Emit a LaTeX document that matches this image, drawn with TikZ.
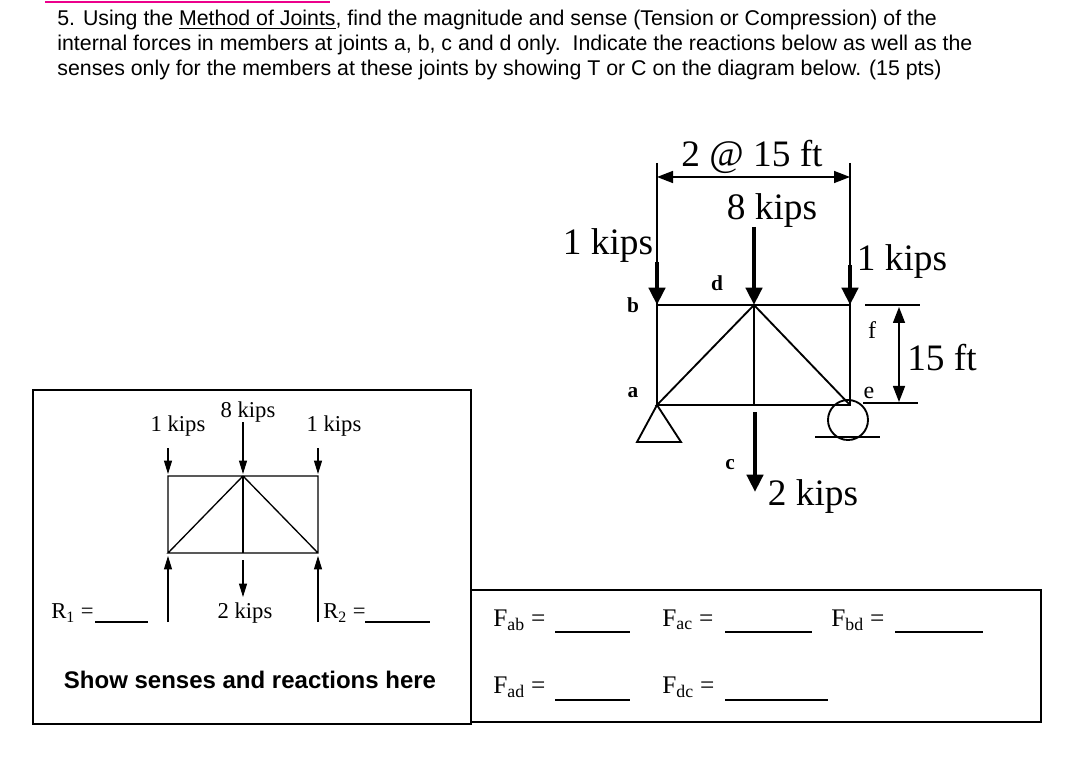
\documentclass[tikz,border=0pt]{standalone}
\usepackage{fontspec}
\setmainfont{Liberation Serif}
\newfontfamily\arial{Liberation Sans}
\usetikzlibrary{arrows.meta}

\begin{document}
\begin{tikzpicture}[x=0.75pt, y=-0.75pt, line width=1.4pt,
	load/.style={line width=3.5pt, -{Triangle[width=12pt,length=13pt]}},
	small load/.style={line width=0.8pt, -{Triangle[width=6pt,length=10pt]}},
	dim/.style={line width=1.1pt, {Triangle[width=9pt,length=12pt]}-{Triangle[width=9pt,length=12pt]}},
	big label/.style={font=\fontsize{28}{30}\selectfont},
	joint label/.style={font=\fontsize{16}{18}\selectfont\bfseries},
	small label/.style={font=\fontsize{17}{19}\selectfont},
	blank/.style={line width=0.8pt}]

	\useasboundingbox (0,0) rectangle (1075,759);

	% heading
	\draw[magenta, line width=2pt] (45,2) -- (330,2);
	\node[anchor=west, font=\arial\fontsize{16}{18.5}\selectfont, align=left] (task) at (52,45)
		{5. Using the \underline{Method of Joints}, find the magnitude and sense (Tension or Compression) of the\\
		internal forces in members at joints a, b, c and d only.\ \ Indicate the reactions below as well as the\\
		senses only for the members at these joints by showing T or C on the diagram below. (15 pts)};

	% main truss
	\coordinate (a) at (657,405);
	\coordinate (b) at (657,305);
	\coordinate (d) at (754,305);
	\coordinate (c) at (754,405);
	\coordinate (f) at (850,305);
	\coordinate (e) at (850,405);
	\draw (a) -- (b) -- (d) -- (f) -- (e) -- (c) -- (a) -- (d) -- (e);
	\draw (d) -- (c);

	% supports
	\draw (a) -- (637,442) -- (681,442) -- cycle;
	\node[circle, draw, minimum size=30pt, inner sep=0pt] (roller) at (848,420) {};
	\draw (815,437) -- (880,437);

	% loads
	\coordinate (l1) at (657,163);
	\coordinate (l2) at (754,227);
	\coordinate (l3) at (850,163);
	\draw[line width=1.1pt] (l1) -- (b);
	\draw[line width=1.1pt] (l3) -- (f);
	\draw[load] (657,262) -- (b);
	\draw[load] (l2) -- (d);
	\draw[load] (850,265) -- (f);
	\draw[load] (755,412) -- (755,492);
	\node[big label] (w1) at (608,246) {1 kips};
	\node[big label] (w2) at (772,211) {8 kips};
	\node[big label] (w3) at (902,262) {1 kips};
	\node[big label] (w4) at (813,497) {2 kips};

	% dimensions
	\draw[dim] (657,177) -- (850,177);
	\node[big label, fill=white, inner sep=1pt] (span) at (752,157) {2 @ 15 ft};
	\draw (865,305) -- (920,305);
	\draw (863,403) -- (918,403);
	\draw[dim] (899,307) -- (899,402);
	\node[big label] (rise) at (942,358) {15 ft};

	% joint names
	\node[joint label] at (633,305) {b};
	\node[joint label] at (717,283) {d};
	\node[joint label] at (633,393) {a};
	\node[joint label] at (730,465) {c};
	\node[font=\fontsize{18}{20}\selectfont] at (872,330) {f};
	\node[font=\fontsize{18}{20}\selectfont] at (869,393) {e};

	% answer boxes
	\draw[line width=0.8pt] (33,390) rectangle (471,724);
	\draw[line width=0.8pt] (471,590) rectangle (1041,722);

	% small truss
	\coordinate (sa) at (168,553);
	\coordinate (sb) at (168,476);
	\coordinate (sd) at (243,476);
	\coordinate (sc) at (243,553);
	\coordinate (sf) at (318,476);
	\coordinate (se) at (318,553);
	\draw[line width=1pt] (sa) -- (sb) -- (sf) -- (se) -- (sa) -- (sd) -- (se);
	\draw[line width=1pt] (sd) -- (sc);
	\foreach \x/\top in {168/438, 243/412, 318/438}
		\draw[small load] (\x,\top+10) -- (\x,474);
	\draw[small load] (168,622) -- (168,556);
	\draw[small load] (318,622) -- (318,556);
	\draw[small load] (243,560) -- (243,597);
	\node[small label] (s1) at (178,426) {1 kips};
	\node[small label] (s2) at (248,412) {8 kips};
	\node[small label] (s3) at (334,426) {1 kips};
	\node[small label] (s4) at (245,613) {2 kips};
	\node[small label, anchor=west] (r1) at (46,613) {R\textsubscript{1} =};
	\draw[blank] (95,622) -- (148,622);
	\node[small label, anchor=west] (r2) at (318,613) {R\textsubscript{2} =};
	\draw[blank] (365,622) -- (430,622);
	\node[font=\arial\bfseries\fontsize{18}{20}\selectfont] (note) at (250,680) {Show senses and reactions here};

	% member forces
	\foreach \name/\x/\y in {ab/488/620, ac/657/620, bd/826/620, ad/488/687, dc/657/687}
		\node[anchor=west, font=\fontsize{19}{21}\selectfont] (F\name) at (\x,\y) {F\textsubscript{\name} =};
	\foreach \xa/\xb/\y in {555/630/632, 725/812/632, 895/983/632, 555/630/700, 725/828/700}
		\draw[blank] (\xa,\y) -- (\xb,\y);
\end{tikzpicture}
\end{document}
